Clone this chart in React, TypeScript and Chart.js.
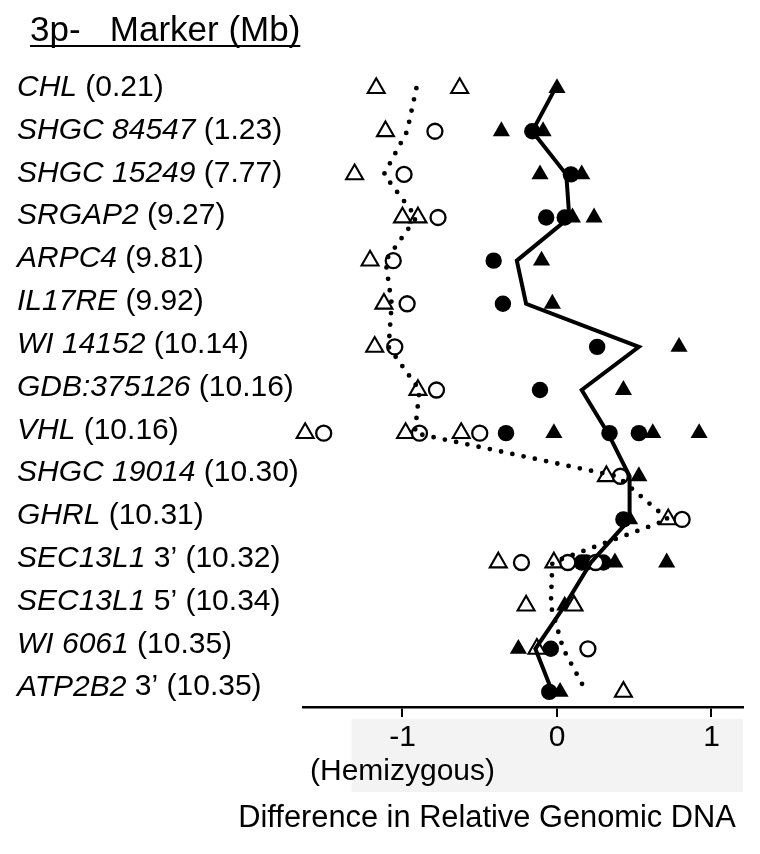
import React, { useEffect, useRef } from "react";
import { Chart, registerables } from "chart.js";

Chart.register(...registerables);

const FONT = "'Liberation Sans', Arial, Helvetica, sans-serif";

// Marker names (italic) and their position suffixes (roman)
const markerNames = [
  "CHL", "SHGC 84547", "SHGC 15249", "SRGAP2", "ARPC4", "IL17RE", "WI 14152",
  "GDB:375126", "VHL", "SHGC 19014", "GHRL", "SEC13L1", "SEC13L1", "WI 6061", "ATP2B2",
];
const markerSuffixes = [
  " (0.21)", " (1.23)", " (7.77)", " (9.27)", " (9.81)", " (9.92)", " (10.14)",
  " (10.16)", " (10.16)", " (10.30)", " (10.31)", " 3\u2019 (10.32)", " 5\u2019 (10.34)",
  " (10.35)", " 3\u2019 (10.35)",
];

// Per-marker values (difference in relative genomic DNA)
const openTriangles = [
  [-1.17, -0.63], [-1.11], [-1.31], [-1.0, -0.9], [-1.21], [-1.12], [-1.18], [-0.9],
  [-1.63, -0.98, -0.62], [0.32], [0.72], [-0.38, -0.02], [-0.2, 0.11], [-0.13], [0.43],
];
const openCircles = [
  [], [-0.79], [-0.99], [-0.77], [-1.06], [-0.97], [-1.05], [-0.78],
  [-1.51, -0.89, -0.5], [0.41], [0.81], [-0.23, 0.07, 0.25], [], [0.2], [],
];
const filledCircles = [
  [], [-0.16], [0.09], [-0.07, 0.05], [-0.41], [-0.35], [0.26], [-0.11],
  [-0.33, 0.34, 0.53], [], [0.43], [0.16, 0.19, 0.3], [], [-0.04], [-0.05],
];
const filledTriangles = [
  [0.0], [-0.36, -0.09], [-0.11, 0.16], [0.1, 0.24], [-0.1], [-0.03], [0.79], [0.43],
  [-0.02, 0.62, 0.92], [0.53], [0.47], [0.375, 0.71], [0.05], [-0.25], [0.02],
];
const hemizygousMean = [
  -0.91, -0.97, -1.12, -0.91, -1.11, -1.07, -1.09, -0.89, -0.92, 0.39, 0.72, -0.03, -0.04, 0.04, 0.19,
];
const otherMean = [
  -0.01, -0.16, 0.06, 0.08, -0.26, -0.2, 0.53, 0.16, 0.33, 0.47, 0.47, 0.22, 0.05, -0.14, -0.03,
];

const xTickValues = [-1, 0, 1];
const xTickLabels: (string | string[])[] = [["-1", "(Hemizygous)"], "0", "1"];
const headerText = "3p-   Marker (Mb)";
const axisTitle = "Difference in Relative Genomic DNA";

const toPoints = (rows: number[][]) =>
  rows.flatMap((vals, i) => vals.map((v) => ({ x: v, y: i })));
const toLine = (vals: number[]) => vals.map((v, i) => ({ x: v, y: i }));

export default function App() {
  const ref = useRef<HTMLCanvasElement>(null);

  useEffect(() => {
    document.body.style.margin = "0";
    const canvas = ref.current!;

    const textPlugin = {
      id: "textPlugin",
      beforeDraw(chart: any) {
        const { ctx, chartArea } = chart;
        const xs = chart.scales.x;
        ctx.save();
        ctx.fillStyle = "#f3f3f3";
        const left = xs.getPixelForValue(-1.33);
        ctx.fillRect(left, chartArea.bottom + 12, chartArea.right - left, 73);
        ctx.restore();
      },
      afterDraw(chart: any) {
        const { ctx, chartArea } = chart;
        const ys = chart.scales.y;
        ctx.save();
        ctx.fillStyle = "#000";
        ctx.textBaseline = "middle";
        ctx.textAlign = "left";
        markerNames.forEach((name, i) => {
          const y = ys.getPixelForValue(i) - 0.5 - i * 0.3;
          ctx.font = `italic 30px ${FONT}`;
          ctx.fillText(name, 17, y);
          const w = ctx.measureText(name).width;
          ctx.font = `30px ${FONT}`;
          ctx.fillText(markerSuffixes[i], 17 + w, y);
        });
        // header
        ctx.font = `35px ${FONT}`;
        ctx.textBaseline = "alphabetic";
        ctx.fillText(headerText, 30, 41);
        const hw = ctx.measureText(headerText).width;
        ctx.fillRect(30, 45, hw, 2);
        // x axis title
        ctx.font = `30.8px ${FONT}`;
        ctx.textAlign = "center";
        ctx.textBaseline = "middle";
        ctx.fillText(axisTitle, 487, chartArea.bottom + 112);
        ctx.restore();
      },
    };

    const chart = new Chart(canvas, {
      type: "scatter",
      data: {
        datasets: [
          {
            label: "Other mean",
            data: toLine(otherMean),
            showLine: true,
            borderColor: "#000",
            borderWidth: 4,
            pointRadius: 0,
            clip: false,
          } as any,
          {
            label: "Hemizygous mean",
            data: toLine(hemizygousMean),
            showLine: true,
            borderColor: "#000",
            borderWidth: 4.8,
            borderDash: [0, 11.5],
            borderCapStyle: "round",
            pointRadius: 0,
            clip: false,
          } as any,
          {
            label: "Open circles",
            data: toPoints(openCircles),
            pointStyle: "circle",
            pointRadius: 7.5,
            pointBackgroundColor: "#fff",
            pointBorderColor: "#000",
            pointBorderWidth: 2.3,
            clip: false,
          } as any,
          {
            label: "Open triangles",
            data: toPoints(openTriangles),
            pointStyle: "triangle",
            pointRadius: 9.8,
            pointBackgroundColor: "#fff",
            pointBorderColor: "#000",
            pointBorderWidth: 2.1,
            clip: false,
          } as any,
          {
            label: "Filled circles",
            data: toPoints(filledCircles),
            pointStyle: "circle",
            pointRadius: 8.2,
            pointBackgroundColor: "#000",
            pointBorderColor: "#000",
            pointBorderWidth: 0,
            clip: false,
          } as any,
          {
            label: "Filled triangles",
            data: toPoints(filledTriangles),
            pointStyle: "triangle",
            pointRadius: 9.9,
            pointBackgroundColor: "#000",
            pointBorderColor: "#000",
            pointBorderWidth: 0,
            clip: false,
          } as any,
        ],
      },
      options: {
        responsive: false,
        animation: false,
        events: [],
        layout: { padding: { left: 303, right: 17, top: 45, bottom: 0 } },
        plugins: { legend: { display: false }, tooltip: { enabled: false } },
        scales: {
          x: {
            type: "linear",
            position: "bottom",
            min: -1.644,
            max: 1.204,
            afterBuildTicks: (s: any) => {
              s.ticks = xTickValues.map((v) => ({ value: v }));
            },
            afterFit: (s: any) => {
              s.height = 147;
            },
            ticks: {
              autoSkip: false,
              maxRotation: 0,
              minRotation: 0,
              padding: 3,
              color: "#000",
              font: { family: FONT, size: 30, lineHeight: 1.15 },
              callback: (v: any) => {
                const idx = xTickValues.indexOf(Number(v));
                return idx >= 0 ? xTickLabels[idx] : "";
              },
            },
            grid: {
              drawOnChartArea: false,
              drawTicks: true,
              tickLength: 10,
              color: "#000",
              lineWidth: 2,
            },
            border: { display: true, color: "#000", width: 2.5 },
          },
          y: {
            type: "linear",
            reverse: true,
            min: -1,
            max: 14.35,
            display: false,
          },
        },
      } as any,
      plugins: [textPlugin],
    });

    return () => chart.destroy();
  }, []);

  return (
    <canvas
      ref={ref}
      width={760}
      height={854}
      style={{ display: "block", width: 760, height: 854 }}
    />
  );
}
